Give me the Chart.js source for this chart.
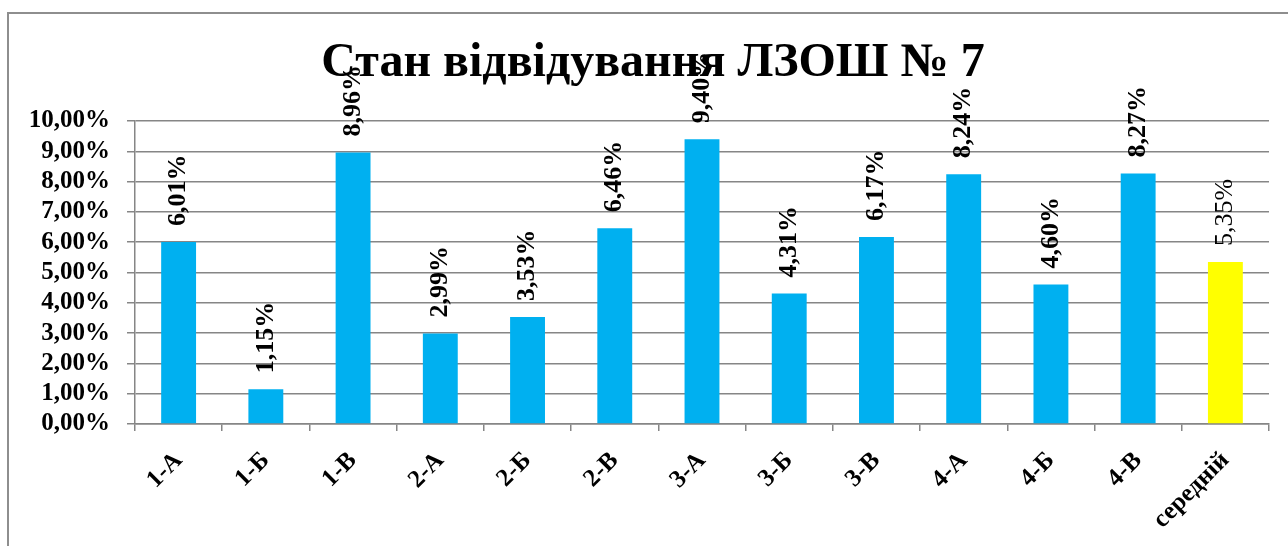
<!DOCTYPE html>
<html>
<head>
<meta charset="utf-8">
<script src="https://cdn.jsdelivr.net/npm/chart.js@4"></script>
<style>
  html, body { margin: 0; padding: 0; background: #fff; overflow: hidden; }
  #frame { position: absolute; left: 7px; top: 12px; width: 1400px; height: 600px; border: 2px solid #8e8e8e; pointer-events: none; }
  #c { position: absolute; left: 0; top: 0; }
</style>
</head>
<body>
<canvas id="c" width="1288" height="546"></canvas>
<div id="frame"></div>
<script>
const chartTitle = "Стан відвідування ЛЗОШ № 7";
const classes = ["1-А", "1-Б", "1-В", "2-А", "2-Б", "2-В", "3-А", "3-Б", "3-В", "4-А", "4-Б", "4-В", "середній"];
const absence = [6.01, 1.15, 8.96, 2.99, 3.53, 6.46, 9.40, 4.31, 6.17, 8.24, 4.60, 8.27, 5.35];
const barColors = ["#00B0F0", "#00B0F0", "#00B0F0", "#00B0F0", "#00B0F0", "#00B0F0", "#00B0F0",
  "#00B0F0", "#00B0F0", "#00B0F0", "#00B0F0", "#00B0F0", "#FFFF00"];

const SERIF = "'Liberation Serif', 'Times New Roman', serif";
const fmt = v => v.toFixed(2).replace(".", ",") + "%";

// title sits a bit right of the canvas centre, like the original
const titlePlugin = {
  id: "titlePlugin",
  beforeDatasetsDraw(chart) {
    const c = chart.ctx;
    c.save();
    c.fillStyle = "#000";
    c.font = "bold 48px " + SERIF;
    c.textAlign = "center";
    c.textBaseline = "middle";
    c.fillText(chartTitle, 653, 64);
    c.restore();
  }
};

// labels above bars, turned upward
const barLabels = {
  id: "barLabels",
  afterDatasetsDraw(chart) {
    const c = chart.ctx;
    const meta = chart.getDatasetMeta(0);
    c.save();
    c.fillStyle = "#000";
    meta.data.forEach((bar, i) => {
      const last = i === absence.length - 1;
      c.save();
      c.translate(bar.x, bar.y - 16);
      c.rotate(-Math.PI / 2);
      c.font = (last ? "" : "bold ") + "26px " + SERIF;
      c.textAlign = "left";
      c.textBaseline = "middle";
      c.fillText(fmt(absence[i]), 0, 0);
      c.restore();
    });
    c.restore();
  }
};

new Chart(document.getElementById("c").getContext("2d"), {
  type: "bar",
  data: {
    labels: classes,
    datasets: [{
      data: absence,
      backgroundColor: barColors,
      borderWidth: 0,
      categoryPercentage: 1,
      barPercentage: 0.4
    }]
  },
  options: {
    responsive: false,
    animation: false,
    layout: { padding: { top: 121, right: 19, bottom: 0, left: 0 } },
    plugins: {
      legend: { display: false },
      tooltip: { enabled: false },
      title: { display: false }
    },
    scales: {
      x: {
        grid: { drawOnChartArea: false, drawTicks: true, tickLength: 7, color: "#868686", lineWidth: 1.5 },
        border: { color: "#868686", width: 1.5 },
        ticks: {
          color: "#000",
          font: { family: SERIF, size: 25, weight: "bold" },
          minRotation: 45,
          maxRotation: 45,
          autoSkip: false,
          padding: 15
        },
        afterFit(scale) { scale.height = 122; }
      },
      y: {
        min: 0,
        max: 10,
        grid: { color: "#868686", lineWidth: 1.5, tickLength: 8 },
        border: { color: "#868686", width: 1.5 },
        ticks: {
          stepSize: 1,
          autoSkip: false,
          color: "#000",
          padding: 17,
          font: { family: SERIF, size: 25, weight: "bold" },
          callback: v => fmt(v)
        },
        afterFit(scale) { scale.width = 135; }
      }
    }
  },
  plugins: [titlePlugin, barLabels]
});
</script>
</body>
</html>
